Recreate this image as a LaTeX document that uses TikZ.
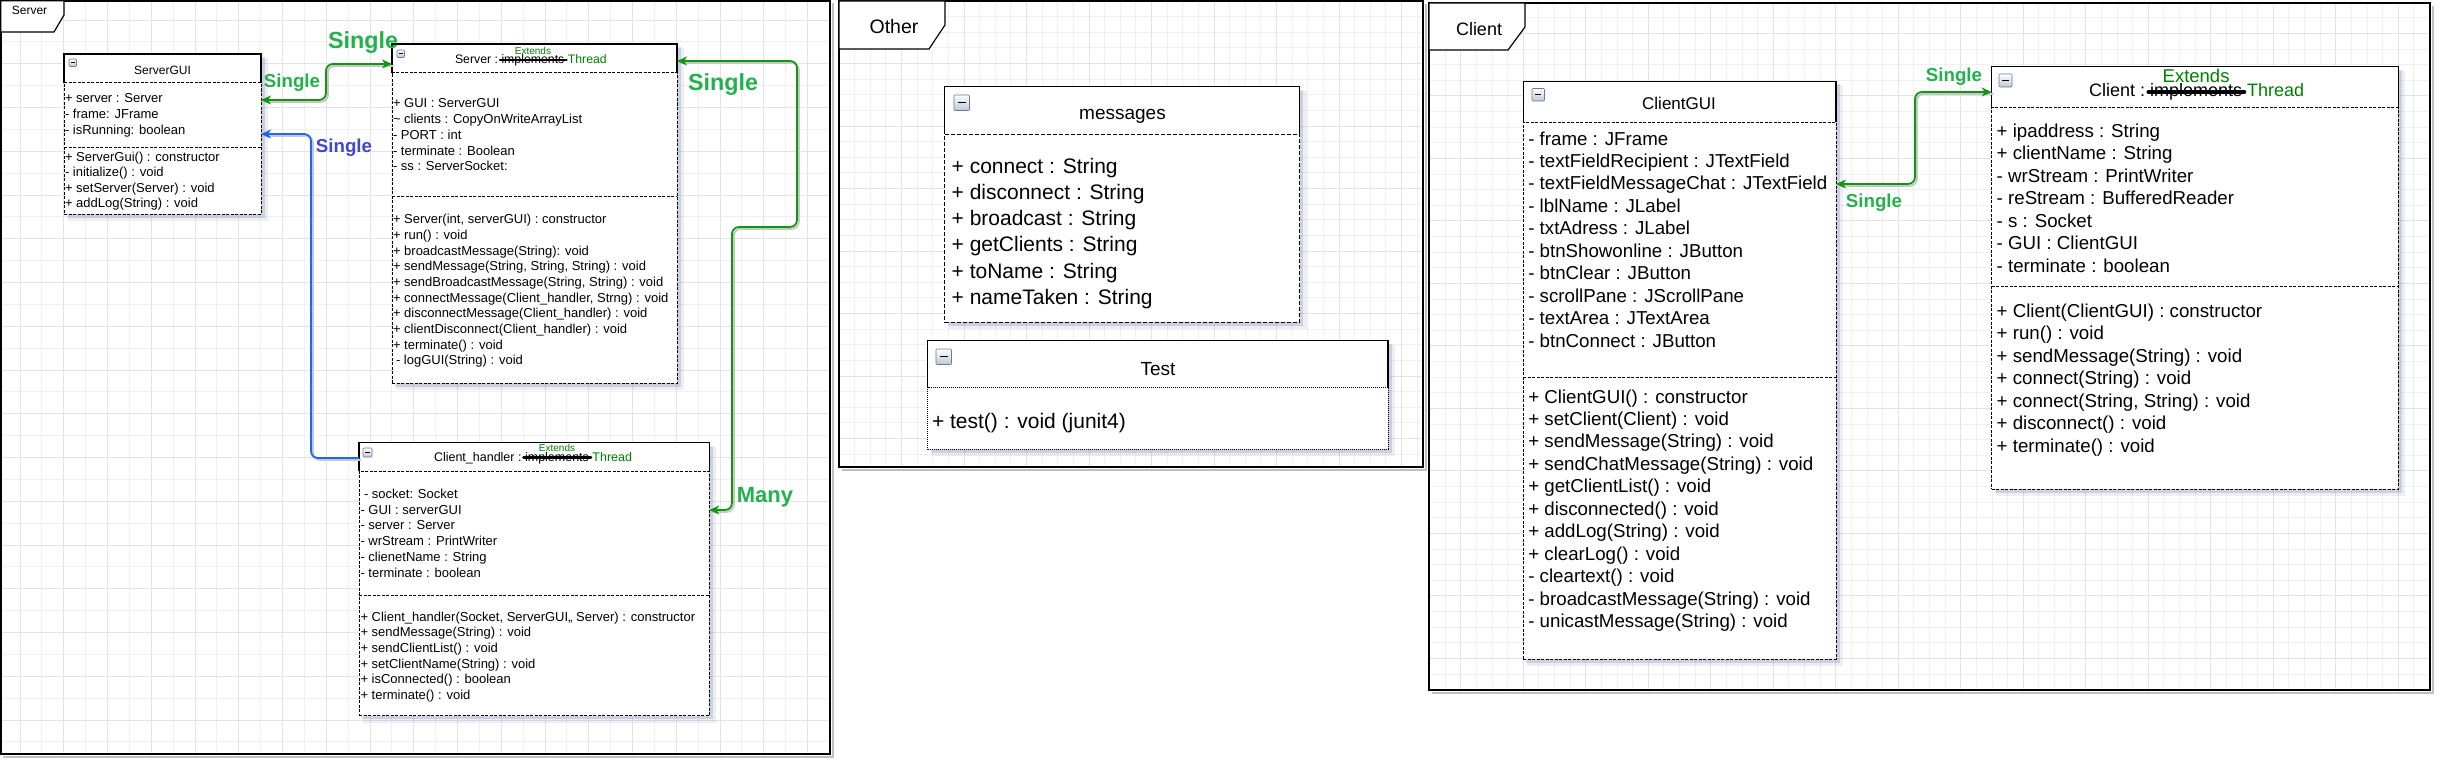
\documentclass[tikz,border=0pt]{standalone}
\usepackage{fontspec}
\setmainfont{Liberation Sans}
\usetikzlibrary{arrows.meta,calc}

\definecolor{lgreen}{RGB}{34,177,76}
\definecolor{lblue}{RGB}{63,72,204}
\definecolor{cgreen}{RGB}{16,150,16}
\definecolor{cblue}{RGB}{30,100,255}
\definecolor{tgreen}{RGB}{0,128,0}
\definecolor{gridminor}{RGB}{240,240,243}
\definecolor{gridmajor}{RGB}{226,226,231}
\definecolor{shadowc}{RGB}{140,140,185}
\definecolor{iconfill}{RGB}{190,200,215}
\definecolor{iconborder}{RGB}{110,120,145}

\newcommand\fsz[1]{\fontsize{#1}{#1}\selectfont}

\tikzset{
  classhead/.style={fill=white, inner sep=0pt, outer sep=0pt, anchor=north west},
  classbody/.style={draw=black, fill=white, line width=0.9pt, dash pattern=on 3pt off 1.5pt, inner sep=0pt, outer sep=0pt, anchor=north west},
  sepline/.style={draw=black, line width=0.9pt, dash pattern=on 3pt off 1.5pt},
  headline/.style={draw=black, line width=1.4pt},
  rowtext/.style={inner sep=0pt, outer sep=0pt, anchor=base west, text=black},
  gconn/.style={draw=cgreen, line width=1.8pt, rounded corners=7pt},
  bconn/.style={draw=cblue, line width=1.8pt, rounded corners=7pt},
  cshadow/.style={draw=black!22, line width=2pt, rounded corners=7pt, transform canvas={shift={(1.8pt,-1.8pt)}}},
  gtip/.tip={Stealth[length=10pt,width=9pt,inset=3pt]},
  panel/.style={draw=black, line width=1.6pt},
  tab/.style={draw=black, fill=white, line width=1.2pt},
  icon/.style={draw=iconborder, top color=white, bottom color=iconfill, line width=0.6pt, inner sep=0pt, outer sep=0pt, anchor=north west, rounded corners=1pt},
  gridline/.style={line width=0.8pt},
}

% #1 name, #2 L, #3 T, #4 R, #5 header bottom, #6 B, #7 extra body style
\newcommand\umlbox[7]{%
  \fill[shadowc, opacity=.15] ({#2+4},{#3+4}) rectangle ({#4+7},{#6+7});
  \fill[shadowc, opacity=.3] ({#2+3},{#3+3}) rectangle ({#4+3.5},{#6+3.5});
  \node[classhead, minimum width={(#4-#2)*1pt}, minimum height={(#5-#3)*1pt}] (#1h) at (#2,#3) {};
  \node[classbody, #7, minimum width={(#4-#2)*1pt}, minimum height={(#6-#5)*1pt}] (#1b) at (#2,#5) {};
  \draw[headline] (#1h.south west) |- (#1h.north east) -- (#1h.south east);
}
% #1 name, #2 x, #3 y, #4 size
\newcommand\uicon[4]{%
  \node[icon, minimum width=#4pt, minimum height=#4pt] (#1) at (#2,#3) {};
  \draw[line width=1pt] ($(#1.west)!0.25!(#1.east)$) -- ($(#1.west)!0.75!(#1.east)$);
}
% #1 prefix, #2 x, #3 first baseline, #4 step, #5 font size, #6 list
\newcommand\rowlist[6]{%
  \foreach \rowtxt [count=\ri from 0] in {#6} {
    \node[rowtext, font=\fsz{#5}] (#1\ri) at (#2,{#3+#4*\ri}) {\rowtxt};
  }
}
% #1 prefix, #2 x, #3 baseline, #4 size, #5 class text, #6 Extends size, #7 Extends raise, #8 strike raise
\newcommand\exthdr[8]{%
  \node[rowtext, font=\fsz{#4}] (#1a) at (#2,#3) {#5};
  \node[rowtext, font=\fsz{#4}] (#1b) at ([xshift=0.28*#4]#1a.base east) {implements};
  \node[rowtext, font=\fsz{#4}, text=tgreen] (#1c) at ([xshift=0.28*#4]#1b.base east) {Thread};
  \node[inner sep=0pt, font=\fsz{#6}, text=tgreen, anchor=base] (#1d) at ([yshift=#7]#1b.base) {Extends};
  \draw[line width=0.24*#4, line cap=round] ([xshift=-1.5pt,yshift=#8]#1b.base west) -- ([xshift=2pt,yshift=#8]#1b.base east);
}

\begin{document}
\begin{tikzpicture}[x=1pt,y=-1pt]
\useasboundingbox (0,0) rectangle (2448,760);
\fill[white] (0,0) rectangle (2448,760);

% ---------- grids ----------
\begin{scope}
  \clip (0,0) rectangle (830,754);
  \foreach \k in {-1,...,38}{\pgfmathsetmacro\gp{20+21.875*\k}\draw[gridminor,gridline] (\gp,0) -- (\gp,754);}
  \foreach \k in {-1,...,35}{\pgfmathsetmacro\gp{20+21.875*\k}\draw[gridminor,gridline] (0,\gp) -- (830,\gp);}
  \foreach \k in {0,...,19}{\pgfmathsetmacro\gp{20+43.75*\k}\draw[gridmajor,gridline] (\gp,0) -- (\gp,754);}
  \foreach \k in {0,...,17}{\pgfmathsetmacro\gp{20+43.75*\k}\draw[gridmajor,gridline] (0,\gp) -- (830,\gp);}
\end{scope}
\begin{scope}
  \clip (839,1) rectangle (1423,467);
  \foreach \k in {0,...,38}{\pgfmathsetmacro\gp{839+15.625*\k}\draw[gridminor,gridline] (\gp,1) -- (\gp,467);}
  \foreach \k in {0,...,30}{\pgfmathsetmacro\gp{1+15.625*\k}\draw[gridminor,gridline] (839,\gp) -- (1423,\gp);}
  \foreach \k in {0,...,10}{\pgfmathsetmacro\gp{839+62.5*\k}\draw[gridmajor,gridline] (\gp,1) -- (\gp,467);}
  \foreach \k in {0,...,8}{\pgfmathsetmacro\gp{1+62.5*\k}\draw[gridmajor,gridline] (839,\gp) -- (1423,\gp);}
\end{scope}
\begin{scope}
  \clip (1429,3) rectangle (2430,690);
  \foreach \k in {2,...,66}{\pgfmathsetmacro\gp{1398.2+15.625*\k}\draw[gridminor,gridline] (\gp,3) -- (\gp,690);}
  \foreach \k in {-2,...,42}{\pgfmathsetmacro\gp{33.3+15.625*\k}\draw[gridminor,gridline] (1429,\gp) -- (2430,\gp);}
  \foreach \k in {1,...,17}{\pgfmathsetmacro\gp{1398.2+62.5*\k}\draw[gridmajor,gridline] (\gp,3) -- (\gp,690);}
  \foreach \k in {0,...,10}{\pgfmathsetmacro\gp{33.3+62.5*\k}\draw[gridmajor,gridline] (1429,\gp) -- (2430,\gp);}
\end{scope}

% ---------- panels ----------
\draw[black!25, line width=2pt] (833,3) -- (833,757) -- (3,757);
\draw[black!25, line width=2pt] (1426,4) -- (1426,470) -- (842,470);
\draw[black!25, line width=2pt] (2433,6) -- (2433,693) -- (1432,693);
\draw[panel] (0.8,0.8) rectangle (830,754);
\draw[panel] (839,1) rectangle (1423,467);
\draw[panel] (1429,3) rectangle (2430,690);

\draw[tab] (0.8,0.8) -- (64,0.8) -- (64,15) -- (54,32) -- (0.8,32) -- cycle;
\node[font=\fsz{12}] (tabserver) at (29.5,10.5) {Server};
\draw[tab] (839,1) -- (945,1) -- (945,25) -- (929,49) -- (839,49) -- cycle;
\node[font=\fsz{19.5}] (tabother) at (894,27) {Other};
\draw[tab] (1429,3) -- (1525,3) -- (1525,27) -- (1508,50) -- (1429,50) -- cycle;
\node[font=\fsz{18}] (tabclient) at (1479,29) {Client};

% ---------- class boxes ----------
\umlbox{sg}{64}{54}{261}{82.7}{214}{}
\umlbox{sv}{392}{44}{677}{72.7}{383}{}
\umlbox{ch}{359}{442.7}{709.3}{471}{715.7}{}
\umlbox{ms}{944.6}{86.7}{1299.6}{134}{322.3}{dash pattern=on 4pt off 2pt}
\umlbox{ts}{927.6}{340.7}{1388}{387.3}{449}{dash pattern=on 1pt off 1pt}
\umlbox{cg}{1523.3}{81.2}{1836}{122}{659.2}{}
\umlbox{cl}{1991.7}{66.7}{2398.3}{107.7}{489}{}

\draw[sepline] ($(sgb.north west)+(0,65)$) -- ($(sgb.north east)+(0,65)$);
\draw[sepline] ($(svb.north west)+(0,124)$) -- ($(svb.north east)+(0,124)$);
\draw[sepline] ($(chb.north west)+(0,124)$) -- ($(chb.north east)+(0,124)$);
\draw[sepline] ($(cgb.north west)+(0,255.6)$) -- ($(cgb.north east)+(0,255.6)$);
\draw[sepline] ($(clb.north west)+(0,178.3)$) -- ($(clb.north east)+(0,178.3)$);

\uicon{sgi}{69}{59}{7.5}
\uicon{svi}{397}{50}{7.5}
\uicon{chi}{363}{448}{9}
\uicon{msi}{954}{95}{15.5}
\uicon{tsi}{936}{349}{15.5}
\uicon{cgi}{1532}{88.5}{12.5}
\uicon{cli}{1999}{74}{13}

% ---------- titles ----------
\node[font=\fsz{12}, anchor=base, inner sep=0pt] (sgt) at (162.5,74.3) {ServerGUI};
\node[font=\fsz{19}, anchor=base, inner sep=0pt] (mst) at (1122.5,119.5) {messages};
\node[font=\fsz{19}, anchor=base, inner sep=0pt] (tst) at (1158,375) {Test};
\node[font=\fsz{17}, anchor=base, inner sep=0pt] (cgt) at (1679,109.8) {ClientGUI};
\exthdr{svx}{455}{63.5}{12.3}{Server :}{10}{9}{3.5}
\exthdr{chx}{434}{461}{12.5}{Client\_handler :}{10}{9.5}{3.5}
\exthdr{clx}{2089}{96.5}{18}{Client :}{18.5}{14.5}{4.5}

% ---------- rows ----------
\rowlist{sgA}{65}{102.8}{16}{13}{{+ server : Server},{- frame: JFrame},{- isRunning: boolean}}
\rowlist{sgM}{65}{161.2}{15.55}{13}{{+ ServerGui() : constructor},{- initialize() : void},{+ setServer(Server) : void},{+ addLog(String) : void}}

\rowlist{svA}{393}{107.8}{15.75}{13}{{+ GUI : ServerGUI},{\textasciitilde{} clients : CopyOnWriteArrayList},{- PORT : int},{- terminate : Boolean},{- ss : ServerSocket:}}
\rowlist{svM}{393}{223.8}{15.67}{13}{{+ Server(int, serverGUI) : constructor},{+ run() : void},{+ broadcastMessage(String): void},{+ sendMessage(String, String, String) : void},{+ sendBroadcastMessage(String, String) : void},{+ connectMessage(Client\_handler, Strng) : void},{+ disconnectMessage(Client\_handler) : void},{+ clientDisconnect(Client\_handler) : void},{+ terminate() : void},{\hspace*{3pt}- logGUI(String) : void}}

\rowlist{chA}{360.5}{498.5}{15.74}{13}{{\hspace*{3.5pt}- socket: Socket},{- GUI : serverGUI},{- server : Server},{- wrStream : PrintWriter},{- clienetName : String},{- terminate : boolean}}
\rowlist{chM}{360.5}{621.2}{15.6}{13}{{+ Client\_handler(Socket, ServerGUI,, Server) : constructor},{+ sendMessage(String) : void},{+ sendClientList() : void},{+ setClientName(String) : void},{+ isConnected() : boolean},{+ terminate() : void}}

\rowlist{msA}{951.7}{173.2}{26.2}{21}{{+ connect : String},{+ disconnect : String},{+ broadcast : String},{+ getClients : String},{+ toName : String},{+ nameTaken : String}}
\rowlist{tsM}{932}{428.2}{26}{21}{{+ test() : void (junit4)}}

\rowlist{cgA}{1528.3}{145.1}{22.44}{18.7}{{- frame : JFrame},{- textFieldRecipient : JTextField},{- textFieldMessageChat : JTextField},{- lblName : JLabel},{- txtAdress : JLabel},{- btnShowonline : JButton},{- btnClear : JButton},{- scrollPane : JScrollPane},{- textArea : JTextArea},{- btnConnect : JButton}}
\rowlist{cgM}{1528.3}{403}{22.49}{18.7}{{+ ClientGUI() : constructor},{+ setClient(Client) : void},{+ sendMessage(String) : void},{+ sendChatMessage(String) : void},{+ getClientList() : void},{+ disconnected() : void},{+ addLog(String) : void},{+ clearLog() : void},{- cleartext() : void},{- broadcastMessage(String) : void},{- unicastMessage(String) : void}}

\rowlist{clA}{1996.7}{137.4}{22.5}{18.7}{{+ ipaddress : String},{+ clientName : String},{- wrStream : PrintWriter},{- reStream : BufferedReader},{- s : Socket},{- GUI : ClientGUI},{- terminate : boolean}}
\rowlist{clM}{1996.7}{317.4}{22.5}{18.7}{{+ Client(ClientGUI) : constructor},{+ run() : void},{+ sendMessage(String) : void},{+ connect(String) : void},{+ connect(String, String) : void},{+ disconnect() : void},{+ terminate() : void}}

% ---------- connectors ----------
\coordinate (aS) at ($(sgb.north east)+(0,17.3)$);
\coordinate (aE) at ($(svh.north west)+(0,20)$);
\draw[cshadow] (aS) -| (326,82) |- (aE);
\draw[gconn, gtip-gtip] (aS) -| (326,82) |- (aE);

\coordinate (bS) at ($(chh.north west)+(0,15.3)$);
\coordinate (bE) at ($(sgb.north east)+(0,51.3)$);
\draw[cshadow] (bS) -| (311,300) |- (bE);
\draw[bconn, -gtip] (bS) -| (311,300) |- (bE);

\coordinate (cS) at ($(svh.north east)+(0,17)$);
\coordinate (cE) at ($(chb.north east)+(0,39)$);
\draw[cshadow] (cS) -| (797,227) -| (732,400) |- (cE);
\draw[gconn, gtip-gtip] (cS) -| (797,227) -| (732,400) |- (cE);

\coordinate (dS) at ($(cgb.north east)+(0,62)$);
\coordinate (dE) at ($(clh.north west)+(0,25.3)$);
\draw[cshadow] (dS) -| (1915,140) |- (dE);
\draw[gconn, gtip-gtip] (dS) -| (1915,140) |- (dE);

% ---------- labels ----------
\node[inner sep=0pt, text=lgreen, font=\bfseries\fsz{18.7}] (l1) at (292,83) {Single};
\node[inner sep=0pt, text=lgreen, font=\bfseries\fsz{23.3}] (l2) at (363,43) {Single};
\node[inner sep=0pt, text=lblue, font=\bfseries\fsz{18.7}] (l3) at (344,148) {Single};
\node[inner sep=0pt, text=lgreen, font=\bfseries\fsz{23.3}] (l4) at (723,85) {Single};
\node[inner sep=0pt, text=lgreen, font=\bfseries\fsz{22}] (l5) at (765,497) {Many};
\node[inner sep=0pt, text=lgreen, font=\bfseries\fsz{18.7}] (l6) at (1954,77) {Single};
\node[inner sep=0pt, text=lgreen, font=\bfseries\fsz{18.7}] (l7) at (1874,203) {Single};
\end{tikzpicture}
\end{document}
